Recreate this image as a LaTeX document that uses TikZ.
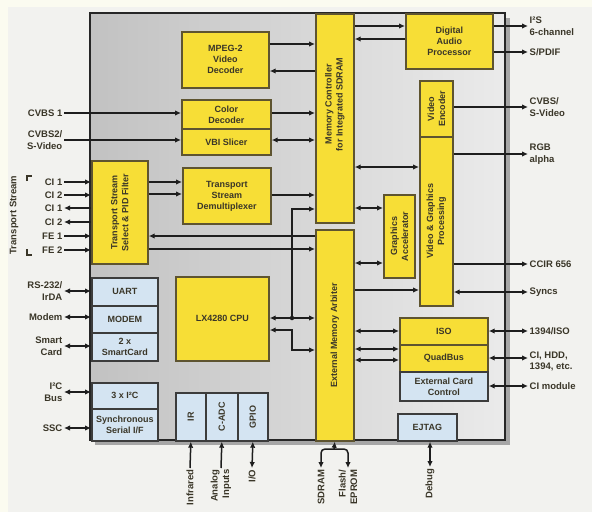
\documentclass[tikz,border=0pt]{standalone}
\usepackage{fontspec}
\setmainfont{Liberation Sans}
\usetikzlibrary{arrows.meta,calc}
\definecolor{cream}{HTML}{FBFBF0}
\definecolor{bgc}{HTML}{F2F2EF}
\definecolor{ylw}{HTML}{F7DE36}
\definecolor{ybord}{HTML}{5E5430}
\definecolor{lblue}{HTML}{D4E4F2}
\definecolor{bbord}{HTML}{3C3C3C}
\definecolor{txt}{HTML}{3A3628}
\definecolor{lnc}{HTML}{1E1E1E}
\begin{document}
\begin{tikzpicture}[x=1pt,y=-1pt,
  font=\fontsize{9}{11}\selectfont\bfseries,
  yb/.style={draw=ybord, fill=ylw, line width=1.7pt, inner sep=0pt, anchor=north west},
  bb/.style={draw=bbord, fill=lblue, line width=1.7pt, inner sep=0pt, anchor=north west},
  tx/.style={inner sep=0pt, align=center, text=txt},
  lbl/.style={inner sep=1.5pt, text=txt, font=\fontsize{9.5}{11.5}\selectfont\bfseries},
  ln/.style={draw=lnc, line width=1.5pt},
  arr/.style={ln, -{Latex[length=6pt,width=5.5pt]}},
  barr/.style={ln, {Latex[length=6pt,width=5.5pt]}-{Latex[length=6pt,width=5.5pt]}},
  dot/.style={circle, fill=lnc, inner sep=0pt, minimum size=4.5pt}
]
\useasboundingbox (0,0) rectangle (592,512);
\fill[cream] (0,0) rectangle (592,512);
\fill[bgc] (8,7) rectangle (592,512);
% chip frame
\fill[gray!70] (95,18) rectangle (510,445);
\shade[left color=black!24, right color=black!8] (90,13) rectangle (505,440);
\draw[draw=black!85, line width=1.9pt] (90,13) rectangle (505,440);

% blocks
\node[yb, minimum width=87pt, minimum height=56pt] (mpeg) at (181,31) {};
\node[tx] (mpegT) at (mpeg.center) {MPEG-2\\Video\\Decoder};
\node[yb, minimum width=89pt, minimum height=29pt] (color) at (181,99) {};
\node[tx] (colorT) at (color.center) {Color\\Decoder};
\node[yb, minimum width=89pt, minimum height=26pt] (vbi) at (181,128) {};
\node[tx] (vbiT) at (vbi.center) {VBI Slicer};
\node[yb, minimum width=88pt, minimum height=56pt] (demux) at (182,167) {};
\node[tx] (demuxT) at (demux.center) {Transport\\Stream\\Demultiplexer};
\node[yb, minimum width=56pt, minimum height=103pt] (pid) at (91,160) {};
\node[tx, rotate=90] (pidT) at (pid.center) {Transport Stream\\Select \& PID Filter};
\node[yb, minimum width=38pt, minimum height=209pt] (mem) at (315,13) {};
\node[tx, rotate=90] (memT) at ($(mem.center)+(0,-14)$) {Memory Controller\\for Integrated SDRAM};
\node[yb, minimum width=38pt, minimum height=211pt] (arb) at (315,229) {};
\node[tx, rotate=90] (arbT) at (arb.center) {External Memory Arbiter};
\node[yb, minimum width=87pt, minimum height=55pt] (dap) at (405,13) {};
\node[tx] (dapT) at (dap.center) {Digital\\Audio\\Processor};
\node[yb, minimum width=33pt, minimum height=56pt] (ve) at (419,80) {};
\node[tx, rotate=90] (veT) at (ve.center) {Video\\Encoder};
\node[yb, minimum width=33pt, minimum height=169pt] (vgp) at (419,136) {};
\node[tx, rotate=90] (vgpT) at (vgp.center) {Video \& Graphics\\Processing};
\node[yb, minimum width=31pt, minimum height=83pt] (ga) at (383,194) {};
\node[tx, rotate=90] (gaT) at (ga.center) {Graphics\\Accelerator};
\node[yb, minimum width=88pt, minimum height=27pt] (iso) at (399,317) {};
\node[tx] (isoT) at (iso.center) {ISO};
\node[yb, minimum width=88pt, minimum height=27pt] (quad) at (399,344) {};
\node[tx] (quadT) at (quad.center) {QuadBus};
\node[bb, minimum width=88pt, minimum height=29pt] (ecc) at (399,371) {};
\node[tx] (eccT) at (ecc.center) {External Card\\Control};
\node[bb, minimum width=59pt, minimum height=27pt] (ejtag) at (397,413) {};
\node[tx] (ejtagT) at (ejtag.center) {EJTAG};
\node[yb, minimum width=93pt, minimum height=84pt] (cpu) at (175,276) {};
\node[tx] (cpuT) at (cpu.center) {LX4280 CPU};
\node[bb, minimum width=66pt, minimum height=28pt] (uart) at (91,277) {};
\node[tx] (uartT) at (uart.center) {UART};
\node[bb, minimum width=66pt, minimum height=27pt] (modem) at (91,305) {};
\node[tx] (modemT) at (modem.center) {MODEM};
\node[bb, minimum width=66pt, minimum height=28pt] (smart) at (91,332) {};
\node[tx] (smartT) at (smart.center) {2 x\\SmartCard};
\node[bb, minimum width=66pt, minimum height=26pt] (i2c) at (91,382) {};
\node[tx] (i2cT) at (i2c.center) {3 x I²C};
\node[bb, minimum width=66pt, minimum height=32pt] (ssi) at (91,408) {};
\node[tx] (ssiT) at (ssi.center) {Synchronous\\Serial I/F};
\node[bb, minimum width=30pt, minimum height=48pt] (ir) at (175,392) {};
\node[tx, rotate=90] (irT) at (ir.center) {IR};
\node[bb, minimum width=32pt, minimum height=48pt] (cadc) at (205,392) {};
\node[tx, rotate=90] (cadcT) at (cadc.center) {C-ADC};
\node[bb, minimum width=30pt, minimum height=48pt] (gpio) at (237,392) {};
\node[tx, rotate=90] (gpioT) at (gpio.center) {GPIO};

% left labels
\node[lbl, anchor=east] (lCVBSa) at (64,113) {CVBS 1};
\node[lbl, anchor=east, align=right] (lCVBSb) at (64,140) {CVBS2/\\S-Video};
\node[lbl, anchor=east] (lCIa) at (64,182) {CI 1};
\node[lbl, anchor=east] (lCIb) at (64,195) {CI 2};
\node[lbl, anchor=east] (lCIc) at (64,208) {CI 1};
\node[lbl, anchor=east] (lCId) at (64,222) {CI 2};
\node[lbl, anchor=east] (lFEa) at (64,236) {FE 1};
\node[lbl, anchor=east] (lFEb) at (64,250) {FE 2};
\node[lbl, rotate=90] (lTS) at (14,215) {Transport Stream};
\coordinate (bt1) at (27,181); \coordinate (bt2) at (27,176); \coordinate (bt3) at (32,176);
\coordinate (bb1) at (27,249); \coordinate (bb2) at (27,255); \coordinate (bb3) at (32,255);
\draw[line width=1.1pt, draw=txt] (bt1) -- (bt2) -- (bt3);
\draw[line width=1.1pt, draw=txt] (bb1) -- (bb2) -- (bb3);
\node[lbl, anchor=east, align=right] (lRS) at (64,291) {RS-232/\\IrDA};
\node[lbl, anchor=east] (lModem) at (64,317) {Modem};
\node[lbl, anchor=east, align=right] (lSmart) at (64,346) {Smart\\Card};
\node[lbl, anchor=east, align=right] (lI2C) at (64,392) {I²C\\Bus};
\node[lbl, anchor=east] (lSSC) at (64,428) {SSC};

% right labels
\node[lbl, anchor=west, align=left] (lI2S) at (528,26) {I²S\\6-channel};
\node[lbl, anchor=west] (lSPDIF) at (528,52) {S/PDIF};
\node[lbl, anchor=west, align=left] (lCVBSo) at (528,107) {CVBS/\\S-Video};
\node[lbl, anchor=west, align=left] (lRGB) at (528,154) {RGB\\alpha};
\node[lbl, anchor=west] (lCCIR) at (528,264) {CCIR 656};
\node[lbl, anchor=west] (lSync) at (528,292) {Syncs};
\node[lbl, anchor=west] (l1394) at (528,331) {1394/ISO};
\node[lbl, anchor=north west, align=left] (lCIH) at (528,350) {CI, HDD,\\1394, etc.};
\node[lbl, anchor=west] (lCIm) at (528,386) {CI module};

% bottom labels
\node[lbl, rotate=90, anchor=east] (lIR) at (190,468) {Infrared};
\node[lbl, rotate=90, anchor=east, align=right] (lADC) at (221,468) {Analog\\Inputs};
\node[lbl, rotate=90, anchor=east] (lIO) at (252,468) {I/O};
\node[lbl, rotate=90, anchor=east] (lSDRAM) at (321,468) {SDRAM};
\node[lbl, rotate=90, anchor=east, align=right] (lFlash) at (348,468) {Flash/\\EPROM};
\node[lbl, rotate=90, anchor=east] (lDebug) at (430,467) {Debug};

% left connectors
\draw[arr] (lCVBSa.east) -- (color.west |- lCVBSa.east);
\draw[arr] (lCVBSb.east) -- (vbi.west |- lCVBSb.east);
\draw[arr] (lCIa.east) -- (pid.west |- lCIa.east);
\draw[arr] (lCIb.east) -- (pid.west |- lCIb.east);
\draw[arr] (pid.west |- lCIc.east) -- (lCIc.east);
\draw[arr] (pid.west |- lCId.east) -- (lCId.east);
\draw[arr] (lFEa.east) -- (pid.west |- lFEa.east);
\draw[arr] (lFEb.east) -- (pid.west |- lFEb.east);
\draw[barr] (lRS.east) -- (uart.west |- lRS.east);
\draw[barr] (lModem.east) -- (modem.west |- lModem.east);
\draw[barr] (lSmart.east) -- (smart.west |- lSmart.east);
\draw[barr] (lI2C.east) -- (i2c.west |- lI2C.east);
\draw[barr] (lSSC.east) -- (ssi.west |- lSSC.east);

% internal connectors
\draw[arr] (pid.east |- 0,182) -- (demux.west |- 0,182);
\draw[arr] (pid.east |- 0,194) -- (demux.west |- 0,194);
\draw[arr] (arb.west |- 0,236) -- (pid.east |- 0,236);
\draw[arr] (pid.east |- 0,249) -- (arb.west |- 0,249);
\draw[arr] (mpeg.east |- 0,44) -- (mem.west |- 0,44);
\draw[arr] (mem.west |- 0,71) -- (mpeg.east |- 0,71);
\draw[arr] (color.east |- 0,113) -- (mem.west |- 0,113);
\draw[barr] (vbi.east |- 0,140) -- (mem.west |- 0,140);
\draw[arr] (demux.east |- 0,195) -- (mem.west |- 0,195);
\coordinate (j1) at (292,318);
\draw[barr] (cpu.east |- j1) -- (arb.west |- j1);
\draw[arr] (j1) -- (292,209) -- (mem.west |- 0,209);
\node[dot] (jd) at (j1) {};
\draw[barr] (cpu.east |- 0,330) -- (292,330) -- (292,350) -- (arb.west |- 0,350);
\draw[arr] (mem.east |- 0,26) -- (dap.west |- 0,26);
\draw[arr] (dap.west |- 0,39) -- (mem.east |- 0,39);
\draw[barr] (mem.east |- 0,167) -- (vgp.west |- 0,167);
\draw[barr] (mem.east |- 0,208) -- (ga.west |- 0,208);
\draw[barr] (arb.east |- 0,263) -- (ga.west |- 0,263);
\draw[arr] (arb.east |- 0,290) -- (vgp.west |- 0,290);
\draw[barr] (arb.east |- 0,331) -- (iso.west |- 0,331);
\draw[barr] (arb.east |- 0,349) -- (quad.west |- 0,349);
\draw[barr] (arb.east |- 0,360) -- (quad.west |- 0,360);

% right connectors
\draw[arr] (dap.east |- lI2S.west) -- (lI2S.west);
\draw[arr] (dap.east |- lSPDIF.west) -- (lSPDIF.west);
\draw[arr] (ve.east |- lCVBSo.west) -- (lCVBSo.west);
\draw[arr] (vgp.east |- lRGB.west) -- (lRGB.west);
\draw[arr] (vgp.east |- lCCIR.west) -- (lCCIR.west);
\draw[barr] (vgp.east |- lSync.west) -- (lSync.west);
\draw[barr] (iso.east |- l1394.west) -- (l1394.west);
\draw[barr] (quad.east |- 0,358) -- (lCIH.west |- 0,358);
\draw[barr] (ecc.east |- lCIm.west) -- (lCIm.west);

% bottom connectors
\draw[arr] (lIR.east) -- (ir.south);
\draw[arr] (lADC.east) -- (cadc.south);
\draw[barr] (lIO.east) -- (gpio.south);
\coordinate (ja) at (334,449);
\draw[arr] (ja) -- (arb.south);
\draw[arr, rounded corners=4pt] (ja) -| (lSDRAM.east);
\draw[arr, rounded corners=4pt] (ja) -| (lFlash.east);
\draw[barr] (lDebug.east) -- (ejtag.south -| lDebug.east);
\end{tikzpicture}
\end{document}
